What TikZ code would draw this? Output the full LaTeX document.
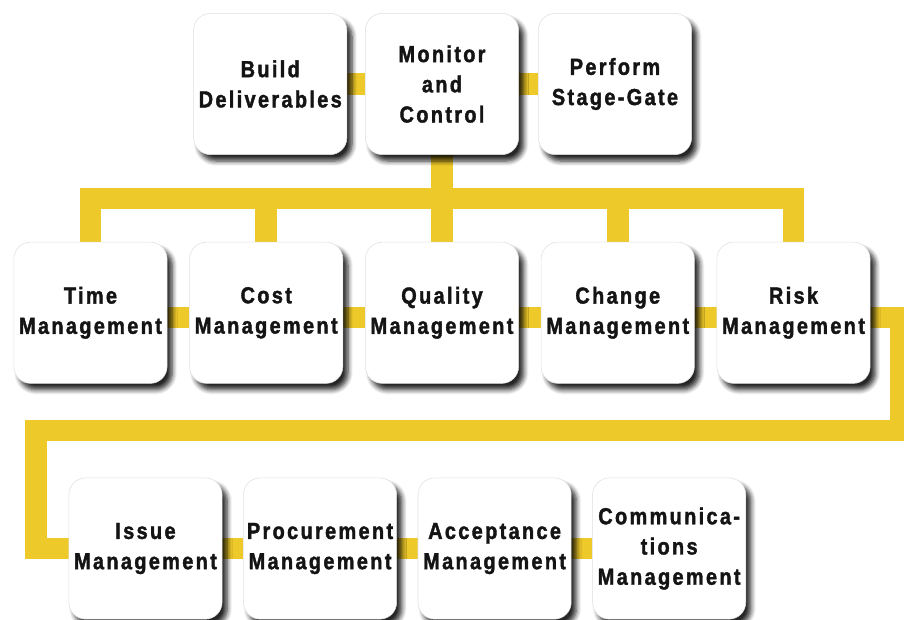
\documentclass[tikz,border=0pt]{standalone}
\usepackage{fontspec}
\newfontfamily\boxfont{Liberation Sans}[FakeStretch=0.86, LetterSpace=10, FakeBold=1.6]
\usepackage{tikz}
\usetikzlibrary{positioning, calc, backgrounds, shadows.blur}

\definecolor{linkyellow}{RGB}{238,201,42}

\begin{document}
\begin{tikzpicture}[
    taskbox/.style={
        rectangle, rounded corners=0.42cm,
        draw=black!12, fill=white,
        minimum width=3.83cm,
        minimum height=3.53cm,
        inner sep=0pt, align=center,
        font=\boxfont\bfseries\fontsize{16.5}{21.5}\selectfont,
        text=black!92,
        blur shadow={shadow xshift=0.13cm, shadow yshift=-0.16cm,
            shadow blur steps=6, shadow blur radius=0.12cm, shadow opacity=85}
    },
    link/.style={draw=linkyellow, line width=0.54cm}
]
\useasboundingbox (0,0) rectangle (22.6,-15.5);

% top row
\node[taskbox] (mon) at (11.05,-2.1) {Monitor\\and\\Control};
\node[taskbox, left=0.45cm of mon] (build) {Build\\Deliverables};
\node[taskbox, right=0.48cm of mon] (gate) {Perform\\Stage-Gate};

% middle row
\node[taskbox, below=2.175cm of mon] (qual) {Quality\\Management};
\node[taskbox, left=0.55cm of qual] (cost) {Cost\\Management};
\node[taskbox, left=0.55cm of cost] (time) {Time\\Management};
\node[taskbox, right=0.55cm of qual] (chg) {Change\\Management};
\node[taskbox, right=0.55cm of chg] (risk) {Risk\\Management};

% bottom row
\node[taskbox, below=2.35cm of time, xshift=1.375cm] (issue) {Issue\\Management};
\node[taskbox, right=0.52cm of issue] (proc) {Procurement\\Management};
\node[taskbox, right=0.52cm of proc] (acc) {Acceptance\\Management};
\node[taskbox, right=0.52cm of acc] (comm) {Communica-\\tions\\Management};

\coordinate (bus) at ($(mon.south)!0.5!(qual.north)$);
\coordinate (wrapr) at ([xshift=0.75cm, yshift=-0.12cm]risk.east);
\coordinate (wrapy) at ($(risk.south)!0.5!(issue.north)$);
\coordinate (wrapl) at ([xshift=-0.82cm]issue.west);

\begin{scope}[on background layer]
\draw[link] (build) -- (mon);
\draw[link] (mon) -- (gate);
\draw[link] (mon) -- (qual);
\draw[link] (time.north) |- (bus) -| (risk.north);
\draw[link] (cost.north) -- (cost.north |- bus);
\draw[link] (chg.north) -- (chg.north |- bus);
% middle row links sit a little low
\draw[link] ([yshift=-0.12cm]time.east) -- ([yshift=-0.12cm]cost.west);
\draw[link] ([yshift=-0.12cm]cost.east) -- ([yshift=-0.12cm]qual.west);
\draw[link] ([yshift=-0.12cm]qual.east) -- ([yshift=-0.12cm]chg.west);
\draw[link] ([yshift=-0.12cm]chg.east) -- ([yshift=-0.12cm]risk.west);
\draw[link] ([yshift=-0.12cm]risk.east) -- (wrapr) |- (wrapy) -| (wrapl) -- (issue.west);
\draw[link] (issue) -- (proc);
\draw[link] (proc) -- (acc);
\draw[link] (acc) -- (comm);
\end{scope}

\end{tikzpicture}
\end{document}
